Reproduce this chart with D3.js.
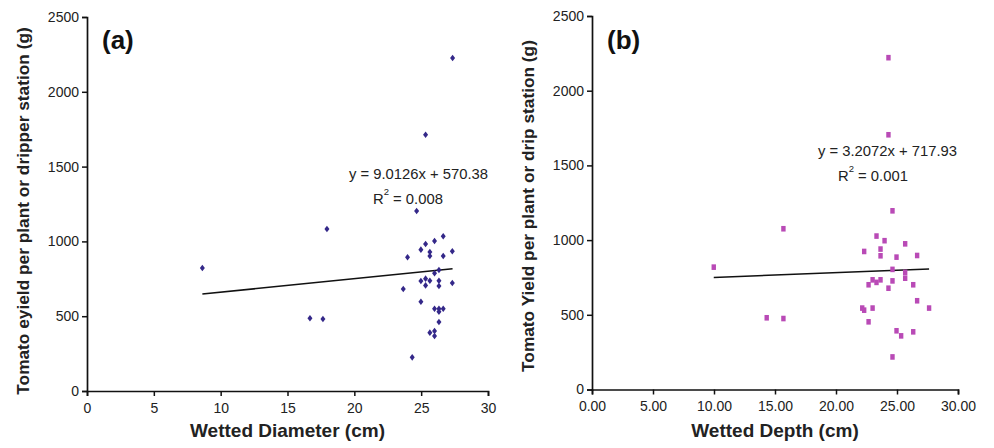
<!DOCTYPE html>
<html><head><meta charset="utf-8">
<script src="https://cdn.jsdelivr.net/npm/d3@7"></script>
<style>body{margin:0;background:#fff}svg{display:block}text{font-family:"Liberation Sans",Arial,sans-serif}</style>
</head><body><svg id="c" width="994" height="448"></svg>
<script>
// Panel (a): Wetted Diameter (cm) vs yield (g)
const diamX = [27.35,25.33,24.66,17.95,8.63,26.65,26.0,25.33,24.98,25.65,25.65,27.33,26.65,23.98,26.33,26.0,24.98,25.33,25.65,25.33,26.33,26.33,27.33,23.66,24.98,26.0,26.33,26.65,26.33,16.68,17.65,26.33,25.65,26.0,26.0,24.33];
const diamY = [2226,1713,1203,1083,822,1034,1003,983,945,929,902,934,902,894,809,787,735,751,737,706,737,702,722,682,597,550,550,550,530,486,481,461,390,401,368,225];
// Panel (b): Wetted Depth (cm) vs yield (g)
const depthX = [24.30,24.30,24.63,15.69,9.98,23.32,23.98,25.67,22.31,23.65,23.65,24.96,26.65,24.63,25.67,25.67,23.0,23.32,23.65,22.67,24.63,24.30,26.33,26.65,22.15,22.31,23.0,27.63,14.32,15.69,22.67,24.96,25.34,26.33,24.63];
const depthY = [2221,1705,1196,1076,819,1027,996,975,924,940,895,886,897,804,784,745,734,717,734,701,727,678,701,594,545,531,545,545,480,475,453,393,359,386,218];
const yTicks = [0,500,1000,1500,2000,2500];
const xTicks = [0,5,10,15,20,25,30];
const fitA = {slope:9.0126, intercept:570.38, label:"y = 9.0126x + 570.38", r2:"0.008"};
const fitB = {slope:3.2072, intercept:717.93, label:"y = 3.2072x + 717.93", r2:"0.001"};

const svg = d3.select("#c");

function panel(o){
  const g = svg.append("g");
  const x = d3.scaleLinear().domain([0,30]).range([o.x0,o.x1]);
  const y = d3.scaleLinear().domain([0,2500]).range([o.y0,o.y1]);
  const ya = g.append("g").attr("transform",`translate(${o.x0},0)`)
    .call(d3.axisLeft(y).tickValues(yTicks).tickSize(5).tickPadding(3).tickFormat(d3.format("d")));
  const xa = g.append("g").attr("transform",`translate(0,${o.y0})`)
    .call(d3.axisBottom(x).tickValues(xTicks).tickSize(5).tickPadding(7).tickFormat(o.fmt));
  [ya,xa].forEach(a=>{
    a.select(".domain").attr("stroke","#111").attr("stroke-width",1.7);
    a.selectAll(".tick line").attr("stroke","#111").attr("stroke-width",1.5);
    a.selectAll(".tick text").attr("fill","#222").attr("font-size",14);
  });
  // trend line
  const xmin = d3.min(o.xs), xmax = d3.max(o.xs);
  g.append("line").attr("x1",x(xmin)).attr("x2",x(xmax))
    .attr("y1",y(o.fit.slope*xmin+o.fit.intercept)).attr("y2",y(o.fit.slope*xmax+o.fit.intercept))
    .attr("stroke","#111").attr("stroke-width",1.5);
  // points
  const pts = o.xs.map((v,i)=>[v,o.ys[i]]);
  if(o.shape==="diamond"){
    g.selectAll("path.pt").data(pts).enter().append("path").attr("class","pt")
      .attr("d",d=>{const cx=x(d[0]),cy=y(d[1]);return `M${cx},${cy-3.3}L${cx+2.5},${cy}L${cx},${cy+3.3}L${cx-2.5},${cy}Z`;})
      .attr("fill","#342889");
  } else {
    g.selectAll("rect.pt").data(pts).enter().append("rect").attr("class","pt")
      .attr("x",d=>x(d[0])-2.2).attr("y",d=>y(d[1])-2.8).attr("width",4.4).attr("height",5.6)
      .attr("fill","#b94ab6");
  }
  // equation text
  g.append("text").attr("x",o.eqX).attr("y",o.eqY).attr("font-size",14.8).attr("fill","#222").text(o.fit.label);
  const r = g.append("text").attr("x",o.r2X).attr("y",o.eqY+25).attr("font-size",14.8).attr("fill","#222");
  r.append("tspan").text("R");
  r.append("tspan").attr("dy",-9).attr("font-size",9.5).text("2");
  r.append("tspan").attr("dy",9).text(" = "+o.fit.r2);
  // panel letter
  g.append("text").attr("x",o.x0+15).attr("y",49).attr("font-size",26).attr("font-weight","bold").attr("fill","#111").text(o.letter);
  // axis titles
  g.append("text").attr("x",(o.x0+o.x1)/2).attr("y",437).attr("text-anchor","middle")
    .attr("font-size",19).attr("font-weight","bold").attr("fill","#222").text(o.xTitle);
  g.append("text").attr("transform",`translate(${o.ytX},${o.ytY}) rotate(-90)`).attr("text-anchor","middle")
    .attr("font-size",17.3).attr("font-weight","bold").attr("fill","#222").text(o.yTitle);
}

panel({x0:87,x1:488,y0:391,y1:17,xs:diamX,ys:diamY,fit:fitA,shape:"diamond",fmt:d3.format("d"),
  eqX:349,eqY:179,r2X:373,letter:"(a)",xTitle:"Wetted Diameter (cm)",
  yTitle:"Tomato eyield per plant or dripper station (g)",ytX:29,ytY:211});
panel({x0:592,x1:958,y0:389.5,y1:16,xs:depthX,ys:depthY,fit:fitB,shape:"square",fmt:d3.format(".2f"),
  eqX:818,eqY:156,r2X:838,letter:"(b)",xTitle:"Wetted Depth (cm)",
  yTitle:"Tomato Yield per plant or drip station (g)",ytX:534,ytY:206});
</script></body></html>
